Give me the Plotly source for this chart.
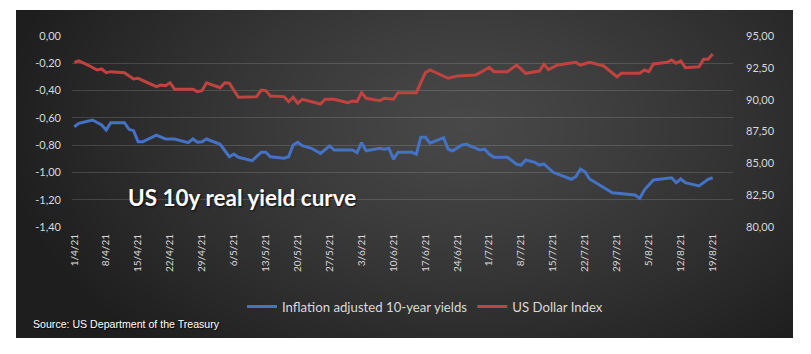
import base64, struct, zlib, math
from datetime import datetime, timedelta
import plotly.graph_objects as go

# ---------------- data ----------------
yield_dates = ["2021-04-01","2021-04-02","2021-04-05","2021-04-07","2021-04-08","2021-04-09","2021-04-12","2021-04-13","2021-04-14","2021-04-15",
 "2021-04-16","2021-04-19","2021-04-21","2021-04-23","2021-04-26","2021-04-27","2021-04-28","2021-04-29","2021-04-30","2021-05-01",
 "2021-05-03","2021-05-05","2021-05-06","2021-05-07","2021-05-10","2021-05-12","2021-05-13","2021-05-14","2021-05-17","2021-05-18",
 "2021-05-19","2021-05-20","2021-05-21","2021-05-23","2021-05-25","2021-05-27","2021-05-28","2021-06-01","2021-06-02","2021-06-03",
 "2021-06-04","2021-06-07","2021-06-08","2021-06-09","2021-06-10","2021-06-11","2021-06-14","2021-06-15","2021-06-16","2021-06-17",
 "2021-06-18","2021-06-21","2021-06-22","2021-06-23","2021-06-25","2021-06-26","2021-06-29","2021-06-30","2021-07-01","2021-07-02",
 "2021-07-05","2021-07-07","2021-07-08","2021-07-09","2021-07-11","2021-07-12","2021-07-13","2021-07-15","2021-07-19","2021-07-20",
 "2021-07-21","2021-07-22","2021-07-23","2021-07-28","2021-07-29","2021-08-02","2021-08-03","2021-08-04","2021-08-06","2021-08-10",
 "2021-08-11","2021-08-12","2021-08-13","2021-08-16","2021-08-18","2021-08-19"]
real_yield = [-0.665,-0.640,-0.616,-0.652,-0.689,-0.635,-0.635,-0.684,-0.694,-0.775,
 -0.775,-0.726,-0.755,-0.755,-0.782,-0.755,-0.779,-0.775,-0.755,-0.767,
 -0.794,-0.885,-0.865,-0.889,-0.914,-0.852,-0.852,-0.885,-0.896,-0.885,
 -0.799,-0.779,-0.804,-0.823,-0.860,-0.806,-0.836,-0.836,-0.855,-0.782,
 -0.841,-0.823,-0.830,-0.823,-0.902,-0.852,-0.852,-0.867,-0.742,-0.742,
 -0.786,-0.745,-0.830,-0.841,-0.799,-0.794,-0.836,-0.830,-0.865,-0.889,
 -0.889,-0.940,-0.946,-0.909,-0.926,-0.946,-0.938,-0.999,-1.050,-1.031,
 -0.975,-0.995,-1.048,-1.149,-1.153,-1.165,-1.190,-1.129,-1.055,-1.039,
 -1.075,-1.048,-1.075,-1.099,-1.050,-1.039]

dxy_dates = ["2021-04-01","2021-04-02","2021-04-04","2021-04-06","2021-04-07","2021-04-08","2021-04-09","2021-04-12","2021-04-14","2021-04-15",
 "2021-04-19","2021-04-20","2021-04-21","2021-04-22","2021-04-23","2021-04-27","2021-04-28","2021-04-29","2021-04-30","2021-05-03",
 "2021-05-04","2021-05-05","2021-05-07","2021-05-11","2021-05-12","2021-05-13","2021-05-14","2021-05-17","2021-05-18","2021-05-19",
 "2021-05-20","2021-05-21","2021-05-25","2021-05-26","2021-05-28","2021-05-31","2021-06-01","2021-06-02","2021-06-03","2021-06-04",
 "2021-06-07","2021-06-08","2021-06-10","2021-06-11","2021-06-15","2021-06-16","2021-06-17","2021-06-18","2021-06-22","2021-06-24",
 "2021-06-28","2021-06-29","2021-07-01","2021-07-02","2021-07-05","2021-07-07","2021-07-09","2021-07-12","2021-07-13","2021-07-14",
 "2021-07-16","2021-07-20","2021-07-21","2021-07-23","2021-07-26","2021-07-27","2021-07-29","2021-07-30","2021-08-03","2021-08-04",
 "2021-08-05","2021-08-06","2021-08-09","2021-08-10","2021-08-11","2021-08-12","2021-08-13","2021-08-16","2021-08-17","2021-08-18",
 "2021-08-19"]
dollar_index = [92.93,93.04,92.72,92.33,92.41,92.12,92.20,92.12,91.62,91.68,
 91.02,91.15,91.10,91.33,90.82,90.82,90.63,90.71,91.33,90.94,
 91.33,91.29,90.19,90.24,90.76,90.71,90.29,90.24,89.84,90.19,
 89.72,90.03,89.66,90.03,90.03,89.76,89.90,89.84,90.55,90.11,
 89.92,90.11,90.03,90.55,90.55,91.29,92.12,92.33,91.68,91.86,
 91.94,92.12,92.54,92.20,92.20,92.72,92.07,92.25,92.79,92.36,
 92.72,92.93,92.72,92.93,92.67,92.39,91.80,92.07,92.07,92.33,
 92.20,92.80,92.93,93.12,92.86,93.04,92.51,92.59,93.17,93.17,
 93.59]

x_tick_labels = ["1/4/21","8/4/21","15/4/21","22/4/21","29/4/21","6/5/21","13/5/21","20/5/21","27/5/21","3/6/21",
 "10/6/21","17/6/21","24/6/21","1/7/21","8/7/21","15/7/21","22/7/21","29/7/21","5/8/21","12/8/21","19/8/21"]
left_tick_vals = [0.0,-0.2,-0.4,-0.6,-0.8,-1.0,-1.2,-1.4]
left_tick_text = ["0,00","-0,20","-0,40","-0,60","-0,80","-1,00","-1,20","-1,40"]
right_tick_vals = [95,92.5,90,87.5,85,82.5,80]
right_tick_text = ["95,00","92,50","90,00","87,50","85,00","82,50","80,00"]

series_names = ["Inflation adjusted 10-year yields", "US Dollar Index"]
title_text = "US 10y real yield curve"
source_text = "Source: US Department of the Treasury"

# ---------------- styling helpers ----------------
def lbl_to_date(s):
    d, m, y = s.split("/")
    return datetime(2000 + int(y), int(m), int(d))

tick_dates = [lbl_to_date(s) for s in x_tick_labels]
tick_marks = [d - timedelta(hours=12) for d in tick_dates]
x_range = [datetime(2021, 3, 31, 12), datetime(2021, 8, 23, 11)]

W, H = 777, 328
def make_bg():
    cx, cy = 0.58 * W, 0.35 * H
    raw = bytearray()
    for j in range(H):
        raw.append(0)
        dy = (j - cy) / (H * 0.9)
        for i in range(W):
            dx = (i - cx) / (W * 0.6)
            t = min(1.0, math.sqrt(dx * dx + dy * dy))
            raw.append(int(round(72 - 42 * t ** 1.2)))
    def chunk(tag, data):
        c = struct.pack(">I", len(data)) + tag + data
        return c + struct.pack(">I", zlib.crc32(tag + data) & 0xffffffff)
    png = (b"\x89PNG\r\n\x1a\n" + chunk(b"IHDR", struct.pack(">IIBBBBB", W, H, 8, 0, 0, 0, 0))
           + chunk(b"IDAT", zlib.compress(bytes(raw), 9)) + chunk(b"IEND", b""))
    return "data:image/png;base64," + base64.b64encode(png).decode()

# plot area in px: x 72..733, y 36..227
L, R, T, B = 72, 733, 36, 227
pw, ph = R - L, B - T
def px(x): return (x - L) / pw
def py(y): return (B - y) / ph

tick_font = dict(family="Lato, Carlito, sans-serif", size=11, color="#d9d9d9")

fig = go.Figure()
fig.add_trace(go.Scatter(x=yield_dates, y=real_yield, name=series_names[0], mode="lines",
                         line=dict(color="#4472c4", width=3), xaxis="x", yaxis="y"))
fig.add_trace(go.Scatter(x=dxy_dates, y=dollar_index, name=series_names[1], mode="lines",
                         line=dict(color="#c0433f", width=3), xaxis="x", yaxis="y2"))

fig.update_layout(
    width=811, height=354, autosize=False,
    margin=dict(l=L, r=811 - R, t=T, b=354 - B, pad=0),
    paper_bgcolor="white", plot_bgcolor="rgba(0,0,0,0)",
    showlegend=True,
    xaxis=dict(type="date", range=x_range, tickvals=tick_dates, ticktext=x_tick_labels,
               tickangle=-90, tickfont=dict(family="Lato, sans-serif", size=10, color="#d9d9d9"),
               showgrid=False, showline=False, zeroline=False, ticks="", ticklabelstandoff=4),
    xaxis2=dict(type="date", range=x_range, overlaying="x", side="top", anchor="y",
                tickvals=tick_marks, showticklabels=False, ticks="inside", ticklen=5,
                tickcolor="#b0b0b0", showline=True, linecolor="#b0b0b0", linewidth=1,
                showgrid=False, zeroline=False),
    yaxis=dict(range=[-1.4, 0], tickvals=left_tick_vals, ticktext=left_tick_text,
               tickfont=tick_font, showgrid=True, gridcolor="rgba(255,255,255,0.14)", gridwidth=1,
               zeroline=False, showline=False, ticks="", ticklabelstandoff=10),
    yaxis2=dict(range=[80, 95], overlaying="y", side="right", tickvals=right_tick_vals,
                ticktext=right_tick_text, tickfont=tick_font, showgrid=False, zeroline=False,
                showline=False, ticks="", ticklabelstandoff=12),
    legend=dict(orientation="h", x=px(425), xanchor="center", y=py(307), yanchor="middle",
                font=dict(family="Lato, sans-serif", size=13.2, color="#d9d9d9"),
                bgcolor="rgba(0,0,0,0)", itemwidth=30),
    images=[dict(source=make_bg(), xref="paper", yref="paper", x=px(16), y=py(10),
                 sizex=(793 - 16) / pw, sizey=(338 - 10) / ph, xanchor="left", yanchor="top",
                 sizing="stretch", layer="below")],
    annotations=[
        dict(text="<b>" + title_text + "</b>", xref="paper", yref="paper", x=px(126), y=py(197),
             xanchor="left", yanchor="middle", showarrow=False,
             font=dict(family="Lato, sans-serif", size=22.5, color="white",
                       shadow="1px 1px 2px rgba(0,0,0,0.8)")),
        dict(text=source_text, xref="paper", yref="paper", x=px(31), y=py(324),
             xanchor="left", yanchor="middle", showarrow=False,
             font=dict(family="Liberation Sans, Arial, sans-serif", size=10.6, color="white",
                       shadow="1px 1px 1px rgba(0,0,0,0.8)")),
    ],
)

fig.write_html("out.html")
